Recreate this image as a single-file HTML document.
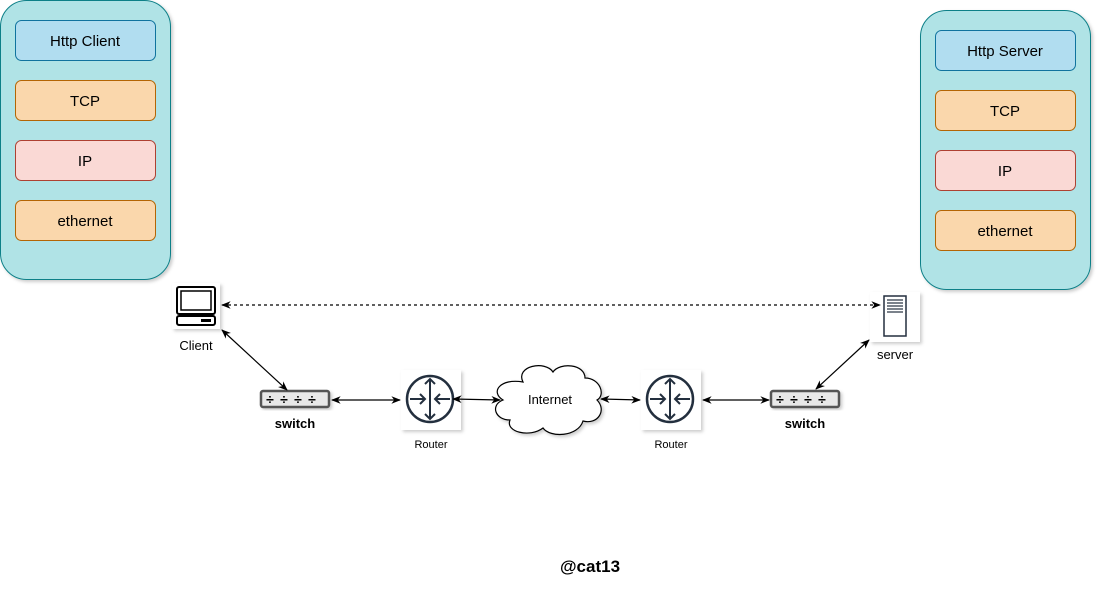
<!DOCTYPE html>
<html><head><meta charset="utf-8"><style>
html,body{margin:0;padding:0;background:#fff;width:1102px;height:592px;overflow:hidden}
svg{display:block}
text{font-family:"Liberation Sans",sans-serif;fill:#000}
</style></head><body>
<svg width="1102" height="592" viewBox="0 0 1102 592" xmlns="http://www.w3.org/2000/svg">
<defs>
<filter id="sh" x="-10%" y="-10%" width="130%" height="130%"><feDropShadow dx="2" dy="2" stdDeviation="1.5" flood-color="#000" flood-opacity="0.2"/></filter>
<marker id="ar" viewBox="0 0 10 10" refX="9" refY="5" markerWidth="8" markerHeight="8" orient="auto-start-reverse"><path d="M0,1 L10,5 L0,9 L3,5 z" fill="#000"/></marker>
</defs>
<rect x="0.5" y="0.5" width="170" height="279" rx="26" fill="#b0e3e6" stroke="#0e8088" filter="url(#sh)"/>
<rect x="15.5" y="20.5" width="140" height="40" rx="6" fill="#b1ddf0" stroke="#10739e"/>
<text x="85" y="46" text-anchor="middle" font-size="15">Http Client</text>
<rect x="15.5" y="80.5" width="140" height="40" rx="6" fill="#fad7ac" stroke="#b46504"/>
<text x="85" y="106" text-anchor="middle" font-size="15">TCP</text>
<rect x="15.5" y="140.5" width="140" height="40" rx="6" fill="#fad9d5" stroke="#ae4132"/>
<text x="85" y="166" text-anchor="middle" font-size="15">IP</text>
<rect x="15.5" y="200.5" width="140" height="40" rx="6" fill="#fad7ac" stroke="#b46504"/>
<text x="85" y="226" text-anchor="middle" font-size="15">ethernet</text>
<rect x="920.5" y="10.5" width="170" height="279" rx="26" fill="#b0e3e6" stroke="#0e8088" filter="url(#sh)"/>
<rect x="935.5" y="30.5" width="140" height="40" rx="6" fill="#b1ddf0" stroke="#10739e"/>
<text x="1005" y="56" text-anchor="middle" font-size="15">Http Server</text>
<rect x="935.5" y="90.5" width="140" height="40" rx="6" fill="#fad7ac" stroke="#b46504"/>
<text x="1005" y="116" text-anchor="middle" font-size="15">TCP</text>
<rect x="935.5" y="150.5" width="140" height="40" rx="6" fill="#fad9d5" stroke="#ae4132"/>
<text x="1005" y="176" text-anchor="middle" font-size="15">IP</text>
<rect x="935.5" y="210.5" width="140" height="40" rx="6" fill="#fad7ac" stroke="#b46504"/>
<text x="1005" y="236" text-anchor="middle" font-size="15">ethernet</text>

<rect x="172" y="283" width="48" height="46" fill="#fff" filter="url(#sh)"/>
<rect x="177" y="287" width="38" height="27" rx="2" fill="none" stroke="#000" stroke-width="2"/>
<rect x="181" y="291" width="30" height="19" fill="none" stroke="#000" stroke-width="1.5"/>
<rect x="177" y="316" width="38" height="9" rx="2" fill="none" stroke="#000" stroke-width="2"/>
<rect x="201" y="319" width="10" height="3" fill="#000"/>
<text x="196" y="350" text-anchor="middle" font-size="13">Client</text>

<rect x="870" y="292" width="50" height="50" fill="#fff" filter="url(#sh)"/>
<rect x="884" y="296" width="22" height="40" fill="none" stroke="#232f3e" stroke-width="1.5"/>
<g stroke="#232f3e" stroke-width="1.2"><line x1="887" y1="300" x2="903" y2="300"/><line x1="887" y1="303" x2="903" y2="303"/><line x1="887" y1="306" x2="903" y2="306"/><line x1="887" y1="309" x2="903" y2="309"/><line x1="887" y1="312" x2="903" y2="312"/></g>
<text x="895" y="359" text-anchor="middle" font-size="13">server</text>

<rect x="261" y="391" width="68" height="16" rx="2" fill="#e8e8e8" stroke="#555" stroke-width="2.5" filter="url(#sh)"/>
<g font-size="14" font-weight="bold"><text x="270" y="404" text-anchor="middle" fill="#444">÷</text><text x="284" y="404" text-anchor="middle" fill="#444">÷</text><text x="298" y="404" text-anchor="middle" fill="#444">÷</text><text x="312" y="404" text-anchor="middle" fill="#444">÷</text></g>
<text x="295" y="428" text-anchor="middle" font-size="13" font-weight="bold">switch</text>
<rect x="771" y="391" width="68" height="16" rx="2" fill="#e8e8e8" stroke="#555" stroke-width="2.5" filter="url(#sh)"/>
<g font-size="14" font-weight="bold"><text x="780" y="404" text-anchor="middle" fill="#444">÷</text><text x="794" y="404" text-anchor="middle" fill="#444">÷</text><text x="808" y="404" text-anchor="middle" fill="#444">÷</text><text x="822" y="404" text-anchor="middle" fill="#444">÷</text></g>
<text x="805" y="428" text-anchor="middle" font-size="13" font-weight="bold">switch</text>

<g>
<rect x="401" y="370" width="60" height="60" fill="#fff" filter="url(#sh)"/>
<circle cx="430" cy="399" r="23" fill="none" stroke="#232f3e" stroke-width="2.5"/>
<g stroke="#232f3e" stroke-width="2" fill="none">
<line x1="430" y1="379" x2="430" y2="419"/><polyline points="425,384 430,379 435,384"/><polyline points="425,414 430,419 435,414"/>
<line x1="410" y1="399" x2="425" y2="399"/><polyline points="420,394 425,399 420,404"/>
<line x1="450" y1="399" x2="435" y2="399"/><polyline points="440,394 435,399 440,404"/>
</g>
</g>
<text x="431" y="448" text-anchor="middle" font-size="11" fill="#232f3e">Router</text>
<g transform="translate(240,0)">
<rect x="401" y="370" width="60" height="60" fill="#fff" filter="url(#sh)"/>
<circle cx="430" cy="399" r="23" fill="none" stroke="#232f3e" stroke-width="2.5"/>
<g stroke="#232f3e" stroke-width="2" fill="none">
<line x1="430" y1="379" x2="430" y2="419"/><polyline points="425,384 430,379 435,384"/><polyline points="425,414 430,419 435,414"/>
<line x1="410" y1="399" x2="425" y2="399"/><polyline points="420,394 425,399 420,404"/>
<line x1="450" y1="399" x2="435" y2="399"/><polyline points="440,394 435,399 440,404"/>
</g>
</g>
<text x="671" y="448" text-anchor="middle" font-size="11" fill="#232f3e">Router</text>

<path d="M523,382 C515,366 545,360 553,372 C560,362 585,364 585,378 C600,378 606,395 597,400 C607,410 598,425 583,421 C578,437 550,438 543,428 C530,438 505,432 510,420 C495,420 490,405 503,400 C490,392 500,378 523,382 Z" fill="#fff" stroke="#000" stroke-width="1.2" filter="url(#sh)"/>
<text x="550" y="404" text-anchor="middle" font-size="13">Internet</text>

<g stroke="#000" stroke-width="1.2" fill="none">
<line x1="222" y1="305" x2="880" y2="305" stroke-dasharray="3,3" marker-start="url(#ar)" marker-end="url(#ar)"/>
<line x1="222" y1="330" x2="287" y2="390" marker-start="url(#ar)" marker-end="url(#ar)"/>
<line x1="332" y1="400" x2="400" y2="400" marker-start="url(#ar)" marker-end="url(#ar)"/>
<line x1="453" y1="399" x2="500" y2="400" marker-start="url(#ar)" marker-end="url(#ar)"/>
<line x1="601" y1="399" x2="640" y2="400" marker-start="url(#ar)" marker-end="url(#ar)"/>
<line x1="703" y1="400" x2="769" y2="400" marker-start="url(#ar)" marker-end="url(#ar)"/>
<line x1="816" y1="389" x2="869" y2="340" marker-start="url(#ar)" marker-end="url(#ar)"/>
</g>

<text x="590" y="572" text-anchor="middle" font-size="17" font-weight="bold">@cat13</text>
</svg>
</body></html>
